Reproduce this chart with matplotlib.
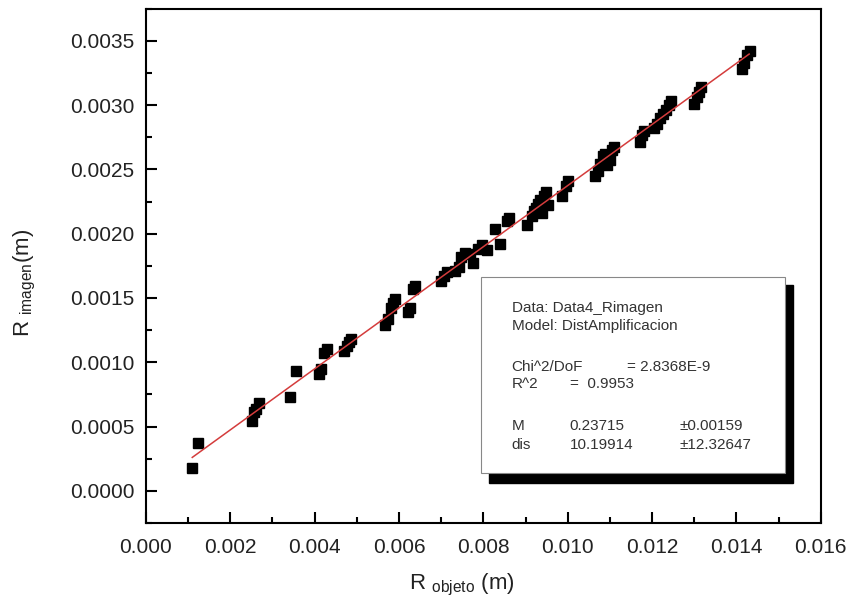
import numpy as np
import matplotlib
matplotlib.use('Agg')
from matplotlib import pyplot as plt
from matplotlib.patches import Rectangle
from matplotlib.ticker import MultipleLocator, FormatStrFormatter

plt.rcParams['font.family'] = ['Liberation Sans', 'DejaVu Sans']
plt.rcParams['mathtext.fontset'] = 'custom'
plt.rcParams['mathtext.rm'] = 'Liberation Sans'

# Measured points (R objeto, R imagen) in metres
r_objeto = [0.00109, 0.00123, 0.00251, 0.00256, 0.00260, 0.00268, 0.00341, 0.00355,
            0.00410, 0.00415, 0.00422, 0.00429, 0.00469, 0.00476, 0.00481, 0.00486,
            0.00566, 0.00573, 0.00581, 0.00585, 0.00590, 0.00621, 0.00626, 0.00633,
            0.00637, 0.00699, 0.00706, 0.00713, 0.00732, 0.00742, 0.00746, 0.00756,
            0.00768, 0.00775, 0.00787, 0.00796, 0.00808, 0.00827, 0.00839, 0.00855,
            0.00860, 0.00903, 0.00915, 0.00919, 0.00924, 0.00929, 0.00934, 0.00938,
            0.00943, 0.00948, 0.00953, 0.00986, 0.00995, 0.01000, 0.01064, 0.01071,
            0.01076, 0.01083, 0.01088, 0.01092, 0.01100, 0.01104, 0.01109, 0.01171,
            0.01175, 0.01180, 0.01204, 0.01211, 0.01218, 0.01225, 0.01232, 0.01239,
            0.01244, 0.01299, 0.01306, 0.01310, 0.01315, 0.01412, 0.01417, 0.01424,
            0.01431]
r_imagen = [0.00018, 0.00037, 0.00054, 0.00061, 0.00064, 0.00068, 0.00073, 0.00093,
            0.00091, 0.00095, 0.00107, 0.00110, 0.00109, 0.00113, 0.00116, 0.00118,
            0.00129, 0.00134, 0.00142, 0.00146, 0.00149, 0.00139, 0.00142, 0.00157,
            0.00159, 0.00163, 0.00167, 0.00170, 0.00171, 0.00174, 0.00182, 0.00185,
            0.00184, 0.00177, 0.00188, 0.00191, 0.00187, 0.00204, 0.00192, 0.00210,
            0.00212, 0.00207, 0.00214, 0.00218, 0.00220, 0.00223, 0.00226, 0.00216,
            0.00229, 0.00232, 0.00222, 0.00229, 0.00237, 0.00241, 0.00245, 0.00249,
            0.00254, 0.00260, 0.00262, 0.00253, 0.00257, 0.00265, 0.00267, 0.00271,
            0.00277, 0.00280, 0.00282, 0.00285, 0.00290, 0.00293, 0.00296, 0.00300,
            0.00303, 0.00301, 0.00306, 0.00310, 0.00314, 0.00328, 0.00333, 0.00339,
            0.00342]

# Fit results
fit_M = 0.23715
fit_dis = 10.19914
fit_range = [0.0011, 0.0143]

stats_lines = [
    ["Data: Data4_Rimagen"],
    ["Model: DistAmplificacion"],
    ["Chi^2/DoF", "= 2.8368E-9"],
    ["R^2", "=  0.9953"],
    ["M", "0.23715", "\u00b10.00159"],
    ["dis", "10.19914", "\u00b112.32647"],
]

fig = plt.figure(figsize=(8.48, 6.09), dpi=100)
ax = fig.add_axes([0.172, 0.141, 0.796, 0.845])

# Data points
ax.plot(r_objeto, r_imagen, ls='none', marker='s', ms=7.8, color='black', zorder=3)

# Fit line
xf = np.linspace(fit_range[0], fit_range[1], 200)
yf = fit_M * xf * fit_dis / (fit_dis - xf)
ax.plot(xf, yf, color='#d43c3c', lw=1.1, zorder=4)

# Axis limits and ticks
ax.set_xlim(0.0, 0.016)
ax.set_ylim(-0.00025, 0.00375)
ax.xaxis.set_major_locator(MultipleLocator(0.002))
ax.xaxis.set_minor_locator(MultipleLocator(0.001))
ax.yaxis.set_major_locator(MultipleLocator(0.0005))
ax.yaxis.set_minor_locator(MultipleLocator(0.00025))
ax.xaxis.set_major_formatter(FormatStrFormatter('%.3f'))
ax.yaxis.set_major_formatter(FormatStrFormatter('%.4f'))
ax.tick_params(which='both', direction='in', top=False, right=False, width=1.5,
               colors='black', labelcolor='#222222', labelsize=15)
ax.tick_params(which='major', length=8, pad=8)
ax.tick_params(which='minor', length=4.5)
ax.tick_params(axis='x', which='major', pad=11)
for sp in ax.spines.values():
    sp.set_linewidth(1.5)

# Axis labels
fig.text(0.544, 0.040, r'R $_{\mathregular{objeto}}$ (m)', fontsize=16,
         ha='center', va='center', color='#222222')
fig.text(0.030, 0.535, r'R $_{\mathregular{imagen}}$(m)', fontsize=16,
         ha='center', va='center', rotation=90, color='#222222')

# Stats box with shadow
ax.add_patch(Rectangle((0.508, 0.0777), 0.4505, 0.3843, transform=ax.transAxes,
                       facecolor='black', edgecolor='black', zorder=5))
ax.add_patch(Rectangle((0.496, 0.097), 0.451, 0.381, transform=ax.transAxes,
                       facecolor='white', edgecolor='#888888', lw=0.8, zorder=6))

line_y = [0.419, 0.383, 0.303, 0.270, 0.188, 0.151]
col_x = {1: [0.542], 2: [0.542, 0.713], 3: [0.542, 0.628, 0.791]}
for k, parts in enumerate(stats_lines):
    xs = col_x[len(parts)]
    if parts[0] == "R^2":
        xs = [0.542, 0.628]
    for x, s in zip(xs, parts):
        ax.text(x, line_y[k], s, transform=ax.transAxes, fontsize=11,
                ha='left', va='center', color='#333333', zorder=7)

fig.savefig('out.png', dpi=100)
